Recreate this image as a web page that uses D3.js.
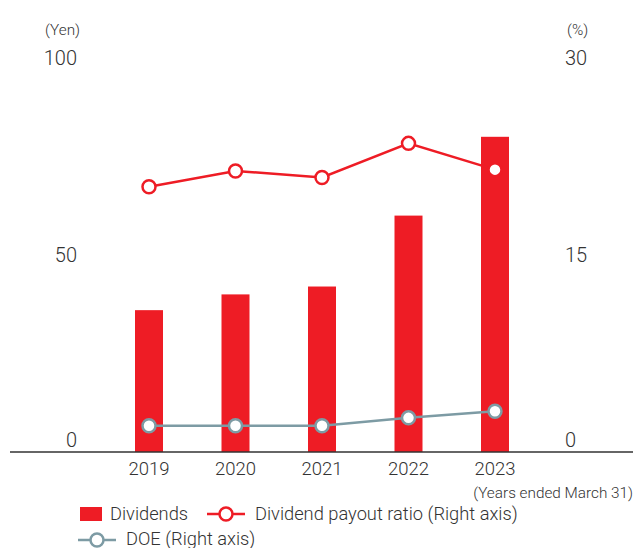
<!DOCTYPE html>
<html lang="en">
<head>
<meta charset="UTF-8">
<title>Dividends</title>
<script src="https://d3js.org/d3.v7.min.js"></script>
<style>
  body { margin: 0; background: #fff; }
  svg { display: block; font-family: Roboto, "Liberation Sans", Arial, sans-serif; font-weight: 300; }
  .tick-label { fill: #333; font-size: 20px; }
  .year-label { fill: #333; font-size: 18.5px; }
  .legend-text { fill: #333; font-size: 18.3px; }
  .note { fill: #333; font-size: 15.3px; }
</style>
</head>
<body>
<svg id="chart" width="633" height="548"></svg>
<script>
var years = ["2019", "2020", "2021", "2022", "2023"];
var dividends = [36, 40, 42, 60, 80];          // Yen
var payoutRatio = [20.2, 21.4, 20.9, 23.5, 21.5]; // %
var doe = [2.0, 2.0, 2.0, 2.6, 3.1];           // %
var leftTicks = [0, 50, 100];
var rightTicks = [0, 15, 30];

var red = "#ee1c25", grey = "#7d9ba4";

var svg = d3.select("#chart");

var x = d3.scalePoint().domain(years).range([149, 495]);
var yL = d3.scaleLinear().domain([0, 100]).range([452, 58]);
var yR = d3.scaleLinear().domain([0, 30]).range([452, 58]);
var barW = 28;

// bars
svg.append("g").selectAll("rect")
  .data(dividends)
  .enter().append("rect")
    .attr("x", function(d, i) { return x(years[i]) - barW / 2; })
    .attr("y", function(d) { return yL(d); })
    .attr("width", barW)
    .attr("height", function(d) { return yL(0) - yL(d); })
    .attr("fill", red);

// axis line
svg.append("line")
  .attr("x1", 10).attr("x2", 633)
  .attr("y1", yL(0)).attr("y2", yL(0))
  .attr("stroke", "#333").attr("stroke-width", 1.5);

// left ticks
svg.append("g").selectAll("text")
  .data(leftTicks)
  .enter().append("text")
    .attr("class", "tick-label")
    .attr("x", 77)
    .attr("y", function(d) { return d === 0 ? yL(d) - 12 : yL(d); })
    .attr("dy", "0.35em")
    .attr("text-anchor", "end")
    .text(function(d) { return d; });

svg.append("g").selectAll("text")
  .data(rightTicks)
  .enter().append("text")
    .attr("class", "tick-label")
    .attr("x", 565)
    .attr("y", function(d) { return d === 0 ? yR(d) - 12 : yR(d); })
    .attr("dy", "0.35em")
    .text(function(d) { return d; });

svg.append("text").attr("class", "note").attr("x", 45).attr("y", 35).text("(Yen)");
svg.append("text").attr("class", "note").attr("x", 567).attr("y", 35).text("(%)");

// year labels
svg.append("g").selectAll("text")
  .data(years)
  .enter().append("text")
    .attr("class", "year-label")
    .attr("x", function(d) { return x(d); })
    .attr("y", 475)
    .attr("text-anchor", "middle")
    .text(function(d) { return d; });

svg.append("text").attr("class", "note")
  .attr("x", 633).attr("y", 498).attr("text-anchor", "end")
  .text("(Years ended March 31)");

// lines
function drawSeries(values, scale, color) {
  var line = d3.line()
    .x(function(d, i) { return x(years[i]); })
    .y(function(d) { return scale(d); });
  svg.append("path")
    .datum(values)
    .attr("d", line)
    .attr("fill", "none")
    .attr("stroke", color)
    .attr("stroke-width", 2.5);
  svg.append("g").selectAll("circle")
    .data(values)
    .enter().append("circle")
      .attr("cx", function(d, i) { return x(years[i]); })
      .attr("cy", function(d) { return scale(d); })
      .attr("r", 6.5)
      .attr("fill", "#fff")
      .attr("stroke", color)
      .attr("stroke-width", 2.5);
}
drawSeries(doe, yR, grey);
drawSeries(payoutRatio, yR, red);

// legend
var lg = svg.append("g");
lg.append("rect").attr("x", 80).attr("y", 507).attr("width", 22).attr("height", 14).attr("fill", red);
lg.append("text").attr("class", "legend-text").attr("x", 110).attr("y", 520).text("Dividends");

function legendLine(cx, cy, color) {
  lg.append("line").attr("x1", cx - 19).attr("x2", cx + 19).attr("y1", cy).attr("y2", cy)
    .attr("stroke", color).attr("stroke-width", 2.5);
  lg.append("circle").attr("cx", cx).attr("cy", cy).attr("r", 6.5)
    .attr("fill", "#fff").attr("stroke", color).attr("stroke-width", 2.5);
}
legendLine(226, 514, red);
lg.append("text").attr("class", "legend-text").attr("x", 255).attr("y", 520).text("Dividend payout ratio (Right axis)");
legendLine(97, 540, grey);
lg.append("text").attr("class", "legend-text").attr("x", 126).attr("y", 545).text("DOE (Right axis)");
</script>
</body>
</html>
